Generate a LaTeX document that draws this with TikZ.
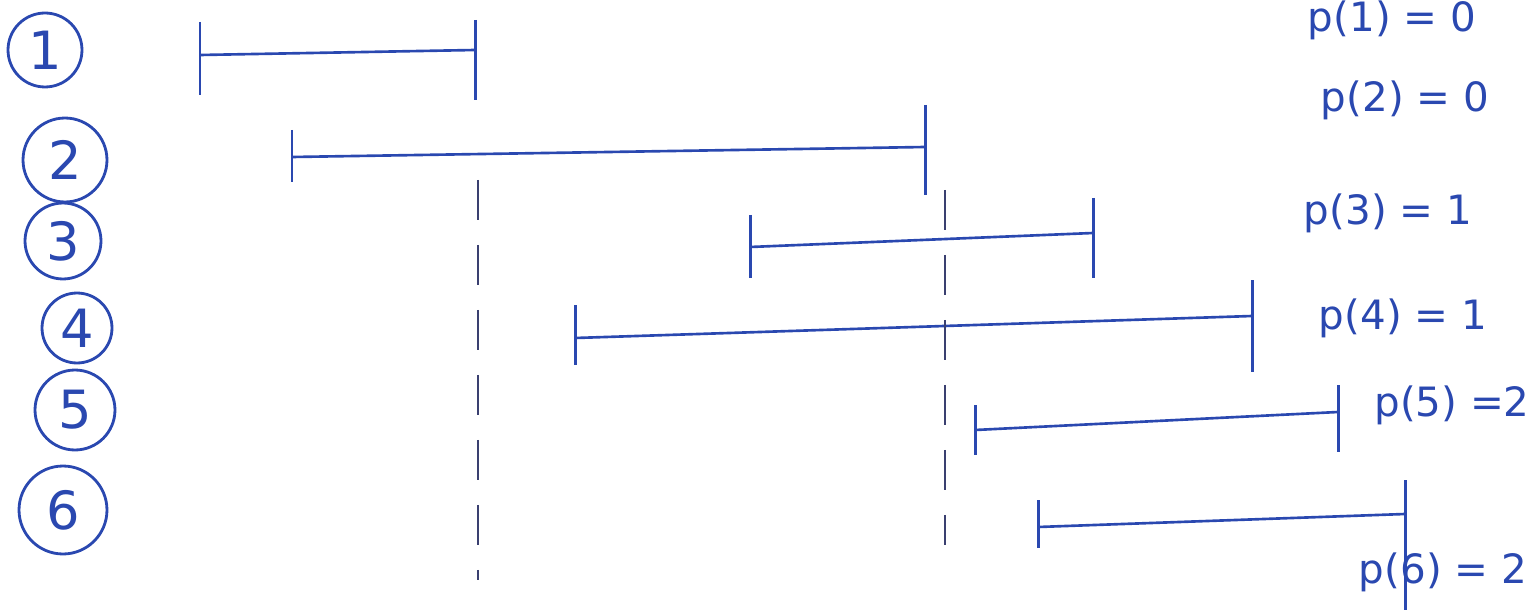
\documentclass[tikz,border=0pt]{standalone}
\usepackage{fontspec}
\setmainfont{DejaVu Sans}
\usetikzlibrary{positioning}
\definecolor{Ink}{HTML}{2A48B0}
\definecolor{Pencil}{HTML}{3A4070}
\tikzset{
  job/.style={draw=Ink,circle,line width=1.6pt,inner sep=0pt,text=Ink,font=\fontsize{30}{30}\selectfont},
  span/.style={draw=Ink,line width=1.5pt},
  tick/.style={draw=Ink,line width=1.7pt},
  cut/.style={draw=Pencil,line width=0.9pt,dash pattern=on 0.8cm off 0.5cm},
  plabel/.style={text=Ink,font=\fontsize{23}{23}\selectfont,inner sep=0pt}
}

\begin{document}
\begin{tikzpicture}[x=0.02cm,y=-0.02cm]
  \useasboundingbox (0,0) rectangle (1534,611);
  % job numbers
  \node[job,minimum size=1.48cm] (c1) at (45,50) {1};
  \node[job,minimum size=1.68cm] (c2) at (65,160) {2};
  \node[job,minimum size=1.52cm] (c3) at (63,241) {3};
  \node[job,minimum size=1.40cm] (c4) at (77,328) {4};
  \node[job,minimum size=1.60cm] (c5) at (75,410) {5};
  \node[job,minimum size=1.76cm] (c6) at (63,510) {6};
  % interval ends
  \coordinate (s1) at (200,55);  \coordinate (e1) at (475,50);
  \coordinate (s2) at (292,157); \coordinate (e2) at (925,147);
  \coordinate (s3) at (750,247); \coordinate (e3) at (1093,233);
  \coordinate (s4) at (575,338); \coordinate (e4) at (1252,316);
  \coordinate (s5) at (975,430); \coordinate (e5) at (1338,412);
  \coordinate (s6) at (1038,527); \coordinate (e6) at (1405,514);
  \draw[span] (s1) -- (e1);
  \draw[span] (s2) -- (e2);
  \draw[span] (s3) -- (e3);
  \draw[span] (s4) -- (e4);
  \draw[span] (s5) -- (e5);
  \draw[span] (s6) -- (e6);
  \draw[tick] (s1) ++(0,-33) -- ++(0,73);
  \draw[tick] (e1) ++(0,-30) -- ++(0,80);
  \draw[tick] (s2) ++(0,-27) -- ++(0,52);
  \draw[tick] (e2) ++(0,-42) -- ++(0,90);
  \draw[tick] (s3) ++(0,-32) -- ++(0,63);
  \draw[tick] (e3) ++(0,-35) -- ++(0,80);
  \draw[tick] (s4) ++(0,-33) -- ++(0,60);
  \draw[tick] (e4) ++(0,-36) -- ++(0,92);
  \draw[tick] (s5) ++(0,-25) -- ++(0,50);
  \draw[tick] (e5) ++(0,-27) -- ++(0,67);
  \draw[tick] (s6) ++(0,-27) -- ++(0,48);
  \draw[tick] (e6) ++(0,-34) -- ++(0,130);
  % cut lines
  \coordinate (d1a) at (478,180); \coordinate (d1b) at (478,580);
  \coordinate (d2a) at (945,190); \coordinate (d2b) at (945,545);
  \draw[cut] (d1a) -- (d1b);
  \draw[cut] (d2a) -- (d2b);
  % predecessors
  \node[plabel] (p1) at (1392,20) {p(1) = 0};
  \node[plabel] (p2) at (1405,100) {p(2) = 0};
  \node[plabel] (p3) at (1388,213) {p(3) = 1};
  \node[plabel] (p4) at (1403,318) {p(4) = 1};
  \node[plabel] (p5) at (1452,405) {p(5) =2};
  \node[plabel] (p6) at (1443,572) {p(6) = 2};
\end{tikzpicture}
\end{document}
